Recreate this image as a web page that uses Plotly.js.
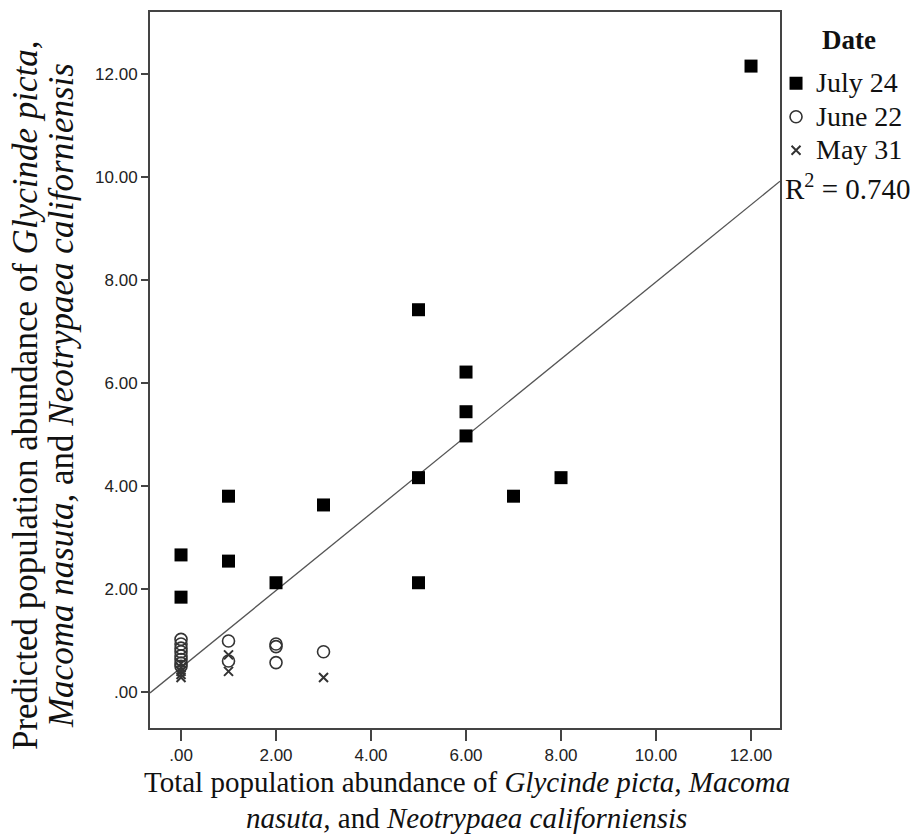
<!DOCTYPE html>
<html>
<head>
<meta charset="utf-8">
<script src="https://cdn.plot.ly/plotly-3.0.1.min.js"></script>
<style>
  html, body { margin: 0; padding: 0; background: #fff; }
  #chart { width: 915px; height: 837px; }
</style>
</head>
<body>
<div id="chart"></div>
<script>
// ---- data ----
const julyX = [12, 5, 6, 6, 6, 5, 5, 7, 8, 3, 2, 1, 1, 0, 0];
const julyY = [12.15, 7.42, 6.21, 5.44, 4.97, 4.16, 2.12, 3.80, 4.16, 3.63, 2.12, 3.80, 2.54, 2.66, 1.84];

const juneX = [0, 0, 0, 0, 0, 0, 0, 0, 1, 1, 2, 2, 2, 3];
const juneY = [1.02, 0.93, 0.85, 0.78, 0.70, 0.63, 0.56, 0.50, 0.99, 0.60, 0.93, 0.88, 0.57, 0.78];

const mayX = [0, 0, 0, 0, 0, 1, 1, 3];
const mayY = [0.55, 0.47, 0.40, 0.34, 0.28, 0.72, 0.40, 0.28];

const seriesNames = ["July 24", "June 22", "May 31"];
const legendTitle = "Date";
const fitIntercept = 0.47;
const fitSlope = 0.749;
const rSquaredText = "R<sup>2</sup> = 0.740";

const xTickVals = [0, 2, 4, 6, 8, 10, 12];
const xTickText = [".00", "2.00", "4.00", "6.00", "8.00", "10.00", "12.00"];
const yTickVals = [0, 2, 4, 6, 8, 10, 12];
const yTickText = [".00", "2.00", "4.00", "6.00", "8.00", "10.00", "12.00"];

const xTitleLines = [
  "Total population abundance of <i>Glycinde picta, Macoma</i>",
  "<i>nasuta,</i> and <i>Neotrypaea californiensis</i>"
];
const yTitleLines = [
  "Predicted population abundance of <i>Glycinde picta,</i>",
  "<i>Macoma nasuta,</i> and <i>Neotrypaea californiensis</i>"
];

const xRange = [-0.653, 12.61];
const yRange = [-0.70, 13.20];

// ---- fit line across the axis range ----
const fitX = [xRange[0], xRange[1]];
const fitY = fitX.map(v => fitIntercept + fitSlope * v);

const serif = "'Liberation Serif'";
const sans = "'Liberation Sans'";
const legendName = n => "<span style='font-size:28px'>" + n + "</span>";

const traces = [
  {
    x: fitX, y: fitY, mode: "lines", type: "scatter",
    line: { color: "#555", width: 1.3 },
    showlegend: false, hoverinfo: "skip"
  },
  {
    x: julyX, y: julyY, mode: "markers", type: "scatter", name: legendName(seriesNames[0]),
    marker: { symbol: "square", size: 13, color: "#000" }
  },
  {
    x: juneX, y: juneY, mode: "markers", type: "scatter", name: legendName(seriesNames[1]),
    marker: { symbol: "circle-open", size: 12, color: "#333", line: { width: 1.6, color: "#333" } }
  },
  {
    x: mayX, y: mayY, mode: "markers", type: "scatter", name: legendName(seriesNames[2]),
    marker: { symbol: "x-thin-open", size: 9, color: "#333", line: { width: 2, color: "#333" } }
  }
];

const axisCommon = {
  showgrid: false, zeroline: false,
  showline: true, mirror: true, linecolor: "#444", linewidth: 2,
  ticks: "outside", tickcolor: "#444", tickwidth: 2,
  tickfont: { family: sans, size: 17, color: "#222" },
  tickmode: "array"
};

const titleFont = s => ({ family: serif, size: s, color: "#111" });

const annotations = [
  {
    text: "<b>" + legendTitle + "</b>", xref: "paper", yref: "paper",
    x: (849 - 150) / 630, y: (728 - 40) / 716, xanchor: "center", yanchor: "middle",
    showarrow: false, font: titleFont(27)
  },
  {
    text: rSquaredText, xref: "paper", yref: "paper",
    x: 1.0048, y: 0.755, xanchor: "left", yanchor: "middle", showarrow: false,
    font: titleFont(29)
  }
];
const xTitleY = [-0.0754, -0.1257];
xTitleLines.forEach((t, i) => annotations.push({
  text: t, xref: "paper", yref: "paper", x: 0.503, y: xTitleY[i],
  xanchor: "center", yanchor: "middle", showarrow: false, font: titleFont(29)
}));
const yTitleX = [-0.1984, -0.1413];
yTitleLines.forEach((t, i) => annotations.push({
  text: t, xref: "paper", yref: "paper", x: yTitleX[i], y: 0.465,
  xanchor: "center", yanchor: "middle", textangle: -90, showarrow: false, font: titleFont(35)
}));

const layout = {
  width: 915, height: 837,
  paper_bgcolor: "#fff", plot_bgcolor: "#fff",
  margin: { l: 150, r: 135, t: 12, b: 109, autoexpand: false },
  xaxis: Object.assign({}, axisCommon, {
    range: xRange, tickvals: xTickVals, ticktext: xTickText, ticklen: 11
  }),
  yaxis: Object.assign({}, axisCommon, {
    range: yRange, tickvals: yTickVals, ticktext: yTickText, ticklen: 7
  }),
  showlegend: true,
  legend: {
    x: 0.9937, y: 0.931, xanchor: "left", yanchor: "top",
    bgcolor: "rgba(0,0,0,0)",
    font: { family: serif, size: 23.5, color: "#111" },
    itemwidth: 30, tracegroupgap: 0
  },
  annotations: annotations
};

Plotly.newPlot("chart", traces, layout, { displayModeBar: false, staticPlot: true });
</script>
</body>
</html>
